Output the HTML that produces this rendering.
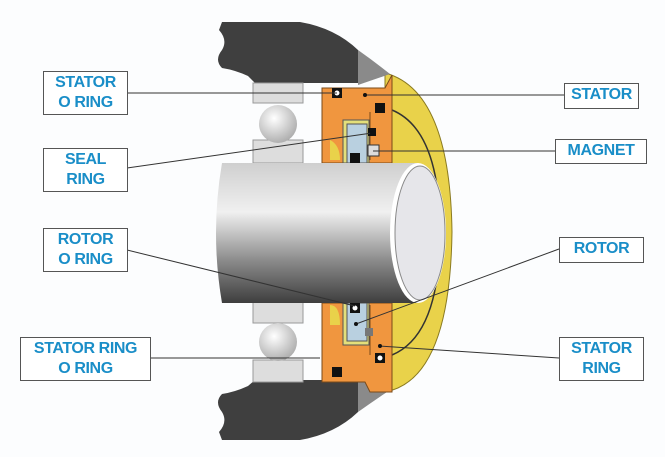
<!DOCTYPE html>
<html><head><style>
body{margin:0;background:#fff;}
.b{position:absolute;border:1px solid #555;background:#fff;color:#1a8ec8;font:bold 16px/20px "Liberation Sans",sans-serif;text-align:center;box-sizing:border-box;padding-top:1px;letter-spacing:-0.4px}
</style></head><body>
<div style="position:relative;width:665px;height:457px;overflow:hidden;background:#fcfdfe">
<svg width="665" height="457" style="position:absolute;left:0;top:0">
<defs>
<linearGradient id="sh" x1="0" y1="0" x2="0" y2="1">
<stop offset="0" stop-color="#cfcfcf"/><stop offset="0.35" stop-color="#f0f0f0"/><stop offset="0.7" stop-color="#8a8a8a"/><stop offset="1" stop-color="#3e3e3e"/></linearGradient>
<radialGradient id="ball" cx="0.4" cy="0.35" r="0.7"><stop offset="0" stop-color="#fff"/><stop offset="1" stop-color="#aaa"/></radialGradient>
</defs>
<!-- yellow cover -->
<path d="M385 73 Q450 90 452 232 Q450 380 385 392 Z" fill="#e9d24a" stroke="#8a7a20"/>
<path d="M392 110 Q440 130 440 232 Q440 335 392 355" fill="none" stroke="#333" stroke-width="1.5"/>
<!-- housing -->
<path d="M222 22 L300 22 Q335 28 358 50 L358 83 L255 83 L248 76 Q235 70 222 68 Q214 60 222 50 Q228 40 219 30 Z" fill="#3f3f3f"/>
<path d="M358 50 Q375 62 390 74 L358 85 Z" fill="#8a8a8a"/>
<path d="M222 440 L300 440 Q335 434 358 412 L358 380 L255 380 L248 386 Q235 392 222 394 Q214 402 222 412 Q228 422 219 432 Z" fill="#3f3f3f"/>
<path d="M358 412 Q375 400 390 390 L358 378 Z" fill="#8a8a8a"/>
<!-- races -->
<rect x="253" y="83" width="50" height="20" fill="#ddd" stroke="#999"/>
<rect x="253" y="140" width="50" height="23" fill="#ddd" stroke="#999"/>
<rect x="253" y="300" width="50" height="23" fill="#ddd" stroke="#999"/>
<rect x="253" y="360" width="50" height="22" fill="#ddd" stroke="#999"/>
<!-- orange stator -->
<path d="M322 88 L385 88 L392 75 L392 163 L322 163 Z" fill="#f0963f" stroke="#7a4a1a"/>
<path d="M322 303 L392 303 L392 392 L370 392 L365 382 L322 382 Z" fill="#f0963f" stroke="#7a4a1a"/>
<line x1="370" y1="112" x2="370" y2="160" stroke="#7a4a1a"/>
<line x1="370" y1="305" x2="370" y2="355" stroke="#7a4a1a"/>
<!-- rotor blue -->
<rect x="343" y="120" width="26" height="43" fill="#e4df7a" stroke="#555"/>
<rect x="347" y="124" width="20" height="39" fill="#b9d0e0" stroke="#555"/>
<rect x="343" y="303" width="26" height="42" fill="#e4df7a" stroke="#555"/>
<rect x="347" y="303" width="20" height="38" fill="#b9d0e0" stroke="#555"/>
<path d="M330 140 Q340 145 340 160 L330 160 Z" fill="#e9d24a"/>
<path d="M330 305 Q340 305 340 325 L330 325 Z" fill="#e9d24a"/>
<!-- o-rings -->
<g fill="#111"><rect x="332" y="88" width="10" height="10"/><rect x="375" y="103" width="10" height="10"/><rect x="368" y="128" width="8" height="8"/><rect x="350" y="153" width="10" height="10"/><rect x="350" y="303" width="10" height="10"/><rect x="375" y="353" width="10" height="10"/><rect x="332" y="367" width="10" height="10"/></g>
<g fill="#fff"><circle cx="337" cy="93" r="2.5"/><circle cx="355" cy="308" r="2.5"/><circle cx="380" cy="358" r="2.5"/></g>
<rect x="368" y="145" width="11" height="11" fill="#ddd" stroke="#333"/>
<rect x="365" y="328" width="8" height="8" fill="#777"/>
<!-- balls -->
<circle cx="278" cy="124" r="19" fill="url(#ball)"/>
<circle cx="278" cy="342" r="19" fill="url(#ball)"/>
<!-- shaft -->
<path d="M222 163 L418 163 L418 303 L222 303 Q210 233 222 163 Z" fill="url(#sh)"/>
<ellipse cx="418" cy="233" rx="28" ry="70" fill="#fff"/>
<ellipse cx="420" cy="233" rx="25" ry="67" fill="#e6e6ea" stroke="#888"/>
<!-- leader lines -->
<g stroke="#333" stroke-width="1" fill="none">
<line x1="127" y1="93" x2="337" y2="93"/>
<line x1="127" y1="168" x2="372" y2="133"/>
<line x1="127" y1="250" x2="355" y2="306"/>
<line x1="150" y1="358" x2="320" y2="358"/>
<line x1="564" y1="95" x2="365" y2="95"/>
<line x1="555" y1="151" x2="373" y2="151"/>
<line x1="559" y1="249" x2="356" y2="324"/>
<line x1="559" y1="358" x2="380" y2="346"/>
</g>
<g fill="#111"><circle cx="365" cy="95" r="2"/><circle cx="356" cy="324" r="2"/><circle cx="380" cy="346" r="2"/><circle cx="372" cy="133" r="2"/></g>
</svg>
<div class="b" style="left:43px;top:71px;width:85px;height:44px">STATOR<br>O RING</div>
<div class="b" style="left:43px;top:148px;width:85px;height:44px">SEAL<br>RING</div>
<div class="b" style="left:43px;top:228px;width:85px;height:44px">ROTOR<br>O RING</div>
<div class="b" style="left:20px;top:337px;width:131px;height:44px">STATOR RING<br>O RING</div>
<div class="b" style="left:564px;top:83px;width:75px;height:26px">STATOR</div>
<div class="b" style="left:555px;top:139px;width:92px;height:25px">MAGNET</div>
<div class="b" style="left:559px;top:237px;width:85px;height:26px">ROTOR</div>
<div class="b" style="left:559px;top:337px;width:85px;height:44px">STATOR<br>RING</div>
</div>
</body></html>
